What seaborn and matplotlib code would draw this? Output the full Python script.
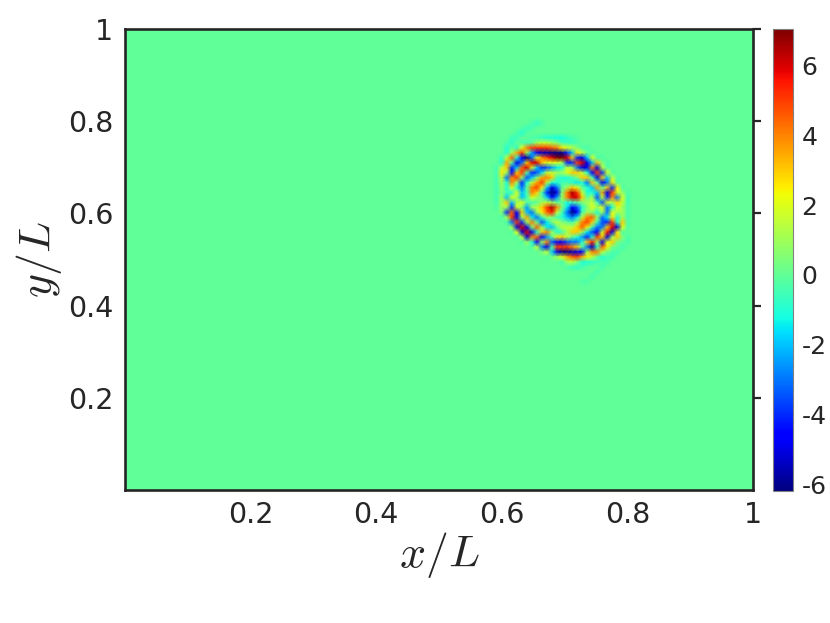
import numpy as np
import matplotlib
matplotlib.use("Agg")
import matplotlib.pyplot as plt
import seaborn as sns

sns.set_theme(style="ticks")
plt.rcParams["font.family"] = ["DejaVu Sans"]
plt.rcParams["mathtext.fontset"] = "cm"

tick_vals = [0.2, 0.4, 0.6, 0.8, 1]
tick_text = ["0.2", "0.4", "0.6", "0.8", "1"]
cbar_ticks = [-6, -4, -2, 0, 2, 4, 6]
cbar_text = ["-6", "-4", "-2", "0", "2", "4", "6"]
vmin_val, vmax_val = -6.2, 7.05
x_title = r"$x/L$"
y_title = r"$y/L$"

# estimated field values around the wave packet (trailing zeros omitted)
packet_rows = [
[0,0,0,0,0,0,0,0,0,0,-.3,-.8,-.3],
[0,0,0,0,0,0,0,0,-.2,-.6,-.5],
[0,0,0,0,0,0,0,-.3,-1,-.2],
[0,0,0,0,0,0,-.6,-.6,0,0,-.3,-.5,-.7,-1,-1,-1.2,-1.2,-.8,-.5,-.2],
[0,0,0,0,0,-.3,-.8,0,-.3,-.5,0,1,1.5,1.5,1,.5,-.3,-.6,-.6,-.3],
[0,0,0,0,0,-1,0,-.8,2,4,5,5,5,5,4.5,4,2.5,2,1.5,.5,-.3,-.3],
[0,0,0,0,0,-1,1,3.5,5,1,-2.5,-4.5,-5.5,-5.5,-6,-6,-6,-4,-2,2.5,1.5,0,-.3],
[0,0,0,0,-.8,1.5,4.5,-1,-4.5,-6,-3,2,4,5,6,7,7,6,3,-4,-5,-2,2,-.3,-.3],
[0,0,0,0,-1,3.5,0,-5,-3,3,6,6,3,2,2,2,1,-4,-4,5,6,-5,-2,3,.5,-.3],
[0,0,0,-.5,1.5,3,-4,-2,4.5,6,2,-2,-4,-3.5,-2.5,-1.5,-1,1.5,1,-3,-5,-5,4,-5,1.5,-.2],
[0,0,0,-.5,2.5,1,-4.5,3,5,0,-4,-3.5,-1.5,1.5,1.5,1,1,2,3,3,1.5,-1,-4.5,5,-4,2,-.2],
[0,0,0,-.5,1.5,-3,4,5,1,-3.5,-2,.5,3.5,4,3,-.5,-1,-1,-.5,.5,3,3,-.5,-5,3,-2,1.5,-.2],
[0,0,0,-.5,1,-1,4,1,-4,-1,1.5,3.5,5,1.5,-1,-1,-.5,-.5,-1,-1.5,-1,-3,3,0,-5,-3,2.5,-.2],
[0,0,0,-.5,.8,-1,2,-1,-3,0,4,5,2.5,-2,-5,-3,0,1,3,2,0,-1,-2,3.5,0,3,-4,2.5,-.3],
[0,0,0,-.5,.5,-.5,-1,2,-2,-.5,4,3,-.5,-4,-6.5,-5,.5,4,6.5,5,1.5,-1,-1,-2,3.5,-5,5,2,.8,-.3],
[0,0,0,-.5,1,-2,2,1,-2,-.5,2,1,0,-2,-4.5,-2.5,1,4,6,6,3,0,1,-3.5,1.5,-4,4,-3,2,-.5],
[0,0,0,-.5,1,3,-2,1,2,0,-.5,0,1,1.5,1,0,0,-1,-.5,0,.5,1,1.5,-.5,-3.5,2,1,3,1.5,-.5],
[0,0,0,-.3,1,1,-4,2,.5,-2.5,1,1.5,3,5,6.5,4,.5,-1.5,-4.5,-3.5,-1,.5,2,1,2,-3,-1,2,1,-.3],
[0,0,0,0,.5,-4,4.5,-4.5,3,-2,-3,1,2.5,4.5,5.5,1.5,-.5,-3,-6.5,-4.5,-.5,1,.5,-1,1,-3,2,1,1,-.3],
[0,0,0,0,-.3,1,5,-5,1,3.5,-1.5,-3,-.5,1,.5,-.5,-1,-2,-3,-1.5,1.5,4,4.5,1,-3,-1.5,2.5,-1,1,-.3],
[0,0,0,0,0,-.3,-3,5,-4,1,4,0,-3.5,-1.5,.5,1.5,.5,0,-.5,1,4,5,3,-.5,-3.5,-4,5,-1,3,-.2],
[0,0,0,0,0,0,1,-5,6,-5,.5,4.5,1,-1.5,-2,0,1.5,1.5,1.5,3,4.5,2.5,-.5,-3,-3,3,6,-5,2,-.2],
[0,0,0,0,0,0,-.2,2,-5,6,-5,-1,3,4,1,-1,-.5,1,3,3,1,-1.5,-3.5,-4.5,2,5.5,-5,2.5,-.2],
[0,0,0,0,0,0,0,-.3,1.5,-5,4,4.5,-4.5,-2.5,0,2.5,3,1.5,0,-1,-2.5,-4,-1,5,3,-5,1,3,.5,-.3],
[0,0,0,0,0,0,0,0,-.3,1,-1,-4.5,1,4,-3.5,-4.5,-4.5,-3.5,-3,-3,-1,3,5.5,1,-5,2,3,.3,0,-.4],
[0,0,0,0,0,0,0,0,0,0,-.2,1.5,-3,-5,0,5,5,5,4,3,0,-3,-5.5,-1,4.5,2.5,.3,0,-.5],
[0,0,0,0,0,0,0,0,0,0,0,0,.5,1.5,-2,-5,-6,-6,-5.5,-5,-4.5,1,4,4,1.5,.2,-.3,-.5],
[0,0,0,0,0,0,0,0,0,0,0,0,0,-.2,.3,1,2,3.5,4.5,5,3.5,2.5,1.5,0,-1,-.5,-.6],
[0,0,0,0,0,0,0,0,0,0,0,0,0,0,0,0,-.5,1,1.5,.5,-1,-1,-.8,-.5,-.3,-.5],
[0,0,0,0,0,0,0,0,0,0,0,0,0,0,0,0,0,-.3,-.6,-.8,-.5,-.2,0,0,-.5],
[0,0,0,0,0,0,0,0,0,0,0,0,0,0,0,0,0,0,0,0,0,0,0,-.5],
[0,0,0,0,0,0,0,0,0,0,0,0,0,0,0,0,0,0,0,0,0,0,-.5],
[0,0,0,0,0,0,0,0,0,0,0,0,0,0,0,0,0,0,0,0,-.3,-.3],
]

NX, NY = 126, 94
COL0, ROW0 = 71, 19
field = np.zeros((NY, NX))
for r, row in enumerate(packet_rows):
    field[ROW0 + r, COL0:COL0 + len(row)] = row

W, H = 830, 623
fig = plt.figure(figsize=(W / 100, H / 100), dpi=100)
ax = fig.add_axes([125 / W, 1 - 490 / H, 628 / W, 461 / H])
cax = fig.add_axes([773 / W, 1 - 491 / H, 20 / W, 462 / H])

sns.heatmap(field, ax=ax, cbar_ax=cax, cmap="jet", vmin=vmin_val, vmax=vmax_val,
            shading="gouraud", xticklabels=False, yticklabels=False)
ax.set_xlim(0, NX - 1)
ax.set_ylim(NY - 1, 0)

dark = "#262626"
for s in ax.spines.values():
    s.set_visible(True)
    s.set_linewidth(1.9)
    s.set_color(dark)
ax.set_xticks([v * (NX - 1) for v in tick_vals])
ax.set_xticklabels(tick_text)
ax.set_yticks([(1 - v) * (NY - 1) for v in tick_vals])
ax.set_yticklabels(tick_text)
ax.tick_params(axis="x", length=0, pad=8, labelsize=20.5, colors=dark)
ax.tick_params(axis="y", left=False, right=True, labelleft=True, labelright=False,
               direction="out", length=5.5, width=1.6, pad=3, labelsize=20.5, color=dark,
               labelcolor=dark)
ax.set_xlabel(x_title, fontsize=33, color=dark, labelpad=1)
ax.set_ylabel(y_title, fontsize=33, color=dark, labelpad=3)

cb = ax.collections[0].colorbar
cb.set_ticks(cbar_ticks)
cb.set_ticklabels(cbar_text)
cb.outline.set_visible(True)
cb.outline.set_linewidth(0.8)
cb.outline.set_edgecolor("#808080")
cax.tick_params(direction="in", length=5, width=0.8, color=dark, labelsize=18,
                labelcolor=dark, pad=6, right=True, left=False)

fig.savefig("out.png", dpi=100)
